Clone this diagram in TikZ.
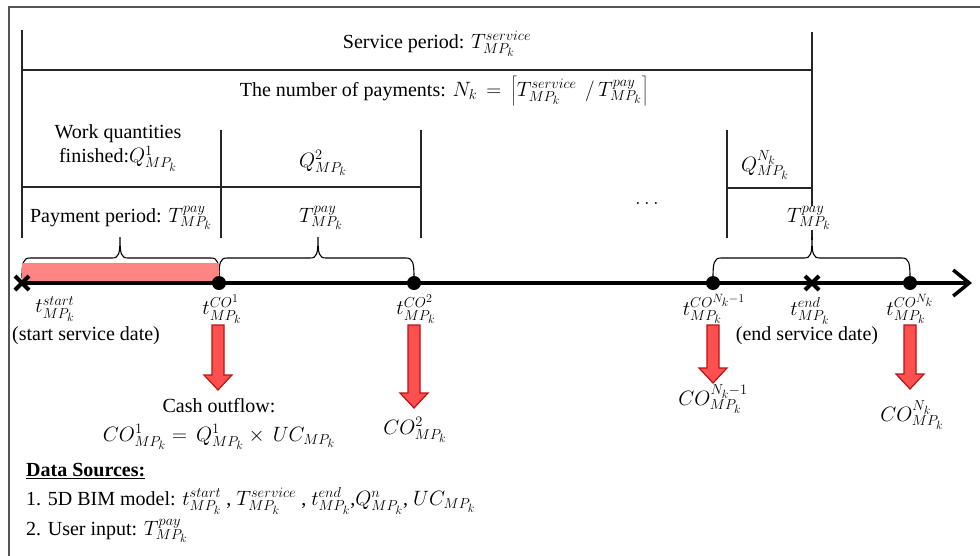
\documentclass[tikz,border=0pt]{standalone}
\usepackage{fontspec}
\setmainfont{Liberation Serif}
\usetikzlibrary{arrows.meta}
\DeclareMathSizes{20}{20}{14.6}{12}
\definecolor{pinkfill}{HTML}{FF8585}
\definecolor{arrfill}{HTML}{FF4F4F}
\definecolor{arrdraw}{HTML}{B81414}
\definecolor{framec}{HTML}{555555}
\newcommand\cfarrowpath[3]{%
  \draw[cfarrow] ({#1-6},#2) -- ({#1+6},#2) -- ({#1+6},{#3-15}) -- ({#1+14},{#3-15}) -- (#1,#3) -- ({#1-14},{#3-15}) -- ({#1-6},{#3-15}) -- cycle;}
\newcommand\mybrace[3]{%
  \draw[brc] (#1,278) .. controls (#1,263) and ({#1+1},258) .. ({#1+8},258) -- ({#2-8},258) .. controls ({#2-1},258) and (#2,254) .. (#2,237) .. controls (#2,254) and ({#2+1},258) .. ({#2+8},258) -- ({#3-8},258) .. controls ({#3-1},258) and (#3,263) .. (#3,278);}
\begin{document}
\begin{tikzpicture}[x=1pt,y=-1pt,
  font=\fontsize{20}{23}\selectfont,
  tline/.style={line width=1.3pt, draw=black!85},
  lbl/.style={inner sep=1pt, align=center},
  dot/.style={circle, fill=black, inner sep=0pt, minimum size=14pt},
  crossmark/.style={line width=4pt},
  brc/.style={line width=1.1pt},
  cfarrow/.style={fill=arrfill, draw=arrdraw, line width=1.2pt, line join=miter},
]
\useasboundingbox (0,0) rectangle (980,555);
% frame
\draw[framec, line width=1.5pt] (9,556) -- (9,7) -- (981,7);

% table lines
\draw[tline] (22,30) -- (22,238);
\draw[tline] (812,32) -- (812,240);
\draw[tline] (22,70) -- (812,70);
\draw[tline] (221,130) -- (221,238);
\draw[tline] (421,130) -- (421,238);
\draw[tline] (22,187) -- (421,187);
\draw[tline] (727,130) -- (727,238);
\draw[tline] (727,188) -- (812,188);

% table texts
\node[lbl] (svc) at (437,44) {Service period: $T^{service}_{MP_k}$};
\node[lbl] (num) at (444,91) {The number of payments: $N_k\,=\,\left\lceil T^{service}_{MP_k}\ \,/\,T^{pay}_{MP_k}\right\rceil$};
\node[lbl, font=\fontsize{20}{24}\selectfont] (q1) at (118,148) {Work quantities\\finished:$Q^{1}_{MP_k}$};
\node[lbl] (q2) at (323,163) {$Q^{2}_{MP_k}$};
\node[lbl] (qn) at (765,165) {$Q^{N_k}_{MP_k}$};
\node[lbl] (pp1) at (121,218) {Payment period: $T^{pay}_{MP_k}$};
\node[lbl] (pp2) at (321,218) {$T^{pay}_{MP_k}$};
\node[lbl, fill=white, inner sep=0.5pt] (pp3) at (809,218) {$T^{pay}_{MP_k}$};
\node[lbl] (dots) at (647,203) {$\dots$};

% braces
\mybrace{22}{120}{219}
\mybrace{219}{318}{414}
\mybrace{713}{812}{910}

% pink bar and timeline
\fill[pinkfill] (22,263) rectangle (219,283);
\coordinate (tstart) at (22,283);
\coordinate (tend) at (972,283);
\draw[line width=3.5pt, -{Straight Barb[length=16pt,width=26pt,line width=3.5pt]}] (tstart) -- (tend);

% points
\draw[crossmark] (15,276) -- (29,290) (15,290) -- (29,276);
\draw[crossmark] (805,276) -- (819,290) (805,290) -- (819,276);
\node[dot] (d1) at (219,283) {};
\node[dot] (d2) at (414,283) {};
\node[dot] (d3) at (713,283) {};
\node[dot] (d4) at (910,283) {};

% time labels
\node[lbl] (ts) at (55,309) {$t^{start}_{MP_k}$};
\node[lbl] (tsd) at (86,336) {(start service date)};
\node[lbl] (t1) at (222,309) {$t^{CO^1}_{MP_k}$};
\node[lbl] (t2) at (416,309) {$t^{CO^2}_{MP_k}$};
\node[lbl] (t3) at (714,309) {$t^{CO^{N_k-1}}_{MP_k}$};
\node[lbl] (te) at (810,311) {$t^{end}_{MP_k}$};
\node[lbl] (ted) at (807,336) {(end service date)};
\node[lbl] (t4) at (910,309) {$t^{CO^{N_k}}_{MP_k}$};

% red arrows
\cfarrowpath{218}{325}{390}
\cfarrowpath{414}{325}{408}
\cfarrowpath{713}{325}{383}
\cfarrowpath{910}{325}{389}

% cash outflow labels
\node[lbl] (co) at (219,406) {Cash outflow:};
\node[lbl] (coeq) at (219,437) {$CO^{1}_{MP_k}=\,Q^{1}_{MP_k}\times\,UC_{MP_k}$};
\node[lbl] (co2) at (415,430) {$CO^{2}_{MP_k}$};
\node[lbl] (co3) at (713,399) {$CO^{N_k-1}_{MP_k}$};
\node[lbl] (co4) at (912,415) {$CO^{N_k}_{MP_k}$};

% data sources
\node[lbl, anchor=west] (ds) at (25,471) {\underline{\textbf{Data Sources:}}};
\node[lbl, anchor=west] (ds1) at (25,501) {1. 5D BIM model: $t^{start}_{MP_k}$ , $T^{service}_{MP_k}$ , $t^{end}_{MP_k}$,$Q^{n}_{MP_k}$, $UC_{MP_k}$};
\node[lbl, anchor=west] (ds2) at (25,531) {2. User input: $T^{pay}_{MP_k}$};
\end{tikzpicture}
\end{document}
